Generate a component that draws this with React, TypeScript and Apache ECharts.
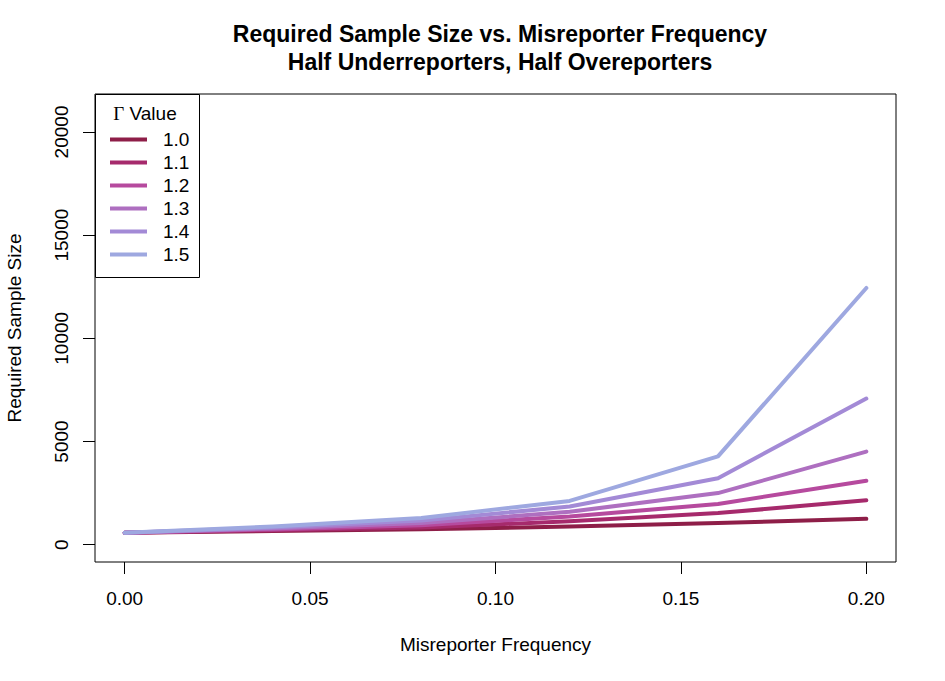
import React, { useEffect, useRef } from "react";
import * as echarts from "echarts";

// Misreporter frequency (x)
const freq = [0, 0.04, 0.08, 0.12, 0.16, 0.2];
// Gamma values (legend)
const gammaLabels = ["1.0", "1.1", "1.2", "1.3", "1.4", "1.5"];
// Required sample size per gamma
const g10 = [580, 660, 745, 880, 1050, 1250];
const g11 = [580, 700, 835, 1130, 1530, 2150];
const g12 = [580, 740, 935, 1370, 1970, 3100];
const g13 = [580, 780, 1045, 1590, 2500, 4510];
const g14 = [580, 830, 1165, 1850, 3220, 7080];
const g15 = [580, 880, 1290, 2120, 4280, 12440];
const seriesValues = [g10, g11, g12, g13, g14, g15];
// Tick labels
const xTicks = [0, 0.05, 0.1, 0.15, 0.2];
const yTicks = [0, 5000, 10000, 15000, 20000];

const colors = ["#8E1E48", "#A62A6C", "#B64A9E", "#AE6FC0", "#A38AD6", "#9EA8E0"];

const FONT = "'Liberation Sans', Arial, Helvetica, sans-serif";

export default function App() {
  const ref = useRef<HTMLDivElement>(null);
  useEffect(() => {
    document.body.style.margin = "0";
    if (!ref.current) return;
    const chart = echarts.init(ref.current, undefined, { renderer: "svg" });
    const option: any = {
      animation: false,
      backgroundColor: "#ffffff",
      textStyle: { fontFamily: FONT, color: "#000" },
      title: {
        text: "Required Sample Size vs. Misreporter Frequency\nHalf Underreporters, Half Overeporters",
        left: 495,
        top: 15,
        textAlign: "center",
        textStyle: {
          fontFamily: FONT,
          fontSize: 23,
          fontWeight: "bold",
          lineHeight: 28,
          color: "#000",
        },
      },
      grid: {
        left: 95,
        right: 49,
        top: 94,
        bottom: 119,
        show: true,
        borderColor: "#000",
        borderWidth: 1,
        backgroundColor: "transparent",
        containLabel: false,
        outerBoundsMode: "none",
      },
      xAxis: {
        type: "value",
        min: -0.008,
        max: 0.208,
        name: "Misreporter Frequency",
        nameLocation: "middle",
        nameGap: 73,
        nameTextStyle: { fontFamily: FONT, fontSize: 19, color: "#000" },
        axisLine: { show: false, onZero: false },
        splitLine: { show: false },
        axisTick: {
          show: true,
          length: 12,
          customValues: xTicks,
          lineStyle: { color: "#000", width: 1 },
        },
        axisLabel: {
          customValues: xTicks,
          margin: 27,
          fontFamily: FONT,
          fontSize: 19,
          color: "#000",
          formatter: (v: number) => v.toFixed(2),
        },
      },
      yAxis: {
        type: "value",
        min: -840,
        max: 21840,
        name: "Required Sample Size",
        nameLocation: "middle",
        nameGap: 71,
        nameRotate: 90,
        nameTextStyle: { fontFamily: FONT, fontSize: 19, color: "#000" },
        axisLine: { show: false, onZero: false },
        splitLine: { show: false },
        axisTick: {
          show: true,
          length: 12,
          customValues: yTicks,
          lineStyle: { color: "#000", width: 1 },
        },
        axisLabel: {
          customValues: yTicks,
          rotate: 90,
          margin: 24,
          fontFamily: FONT,
          fontSize: 19,
          color: "#000",
          formatter: (v: number) => String(v),
        },
      },
      legend: {
        show: true,
        orient: "vertical",
        left: 110,
        top: 130,
        padding: 0,
        z: 20,
        itemWidth: 37,
        itemHeight: 4,
        itemGap: 4,
        icon: "rect",
        textStyle: { fontFamily: FONT, fontSize: 19, lineHeight: 19, color: "#000", padding: [0, 0, 0, 11] },
        data: gammaLabels,
      },
      graphic: [
        {
          type: "rect",
          shape: { x: 95.5, y: 94.5, width: 104, height: 183 },
          style: { fill: "#fff", stroke: "#000", lineWidth: 1 },
          z: 5,
          silent: true,
        },
        {
          type: "text",
          x: 145,
          y: 113,
          z: 11,
          style: {
            text: "{g|Γ} Value",
            align: "center",
            verticalAlign: "middle",
            fontFamily: FONT,
            fontSize: 19,
            fill: "#000",
            rich: {
              g: { fontFamily: "'Liberation Serif', 'DejaVu Serif', serif", fontSize: 19 },
            },
          },
        },
      ],
      series: seriesValues.map((vals, i) => ({
        name: gammaLabels[i],
        type: "line",
        showSymbol: false,
        symbol: "none",
        data: freq.map((f, j) => [f, vals[j]]),
        lineStyle: { color: colors[i], width: 4, cap: "round", join: "round" },
        itemStyle: { color: colors[i] },
        z: 2,
      })),
    };
    chart.setOption(option);
    return () => chart.dispose();
  }, []);
  return <div ref={ref} style={{ width: 945, height: 681 }} />;
}
